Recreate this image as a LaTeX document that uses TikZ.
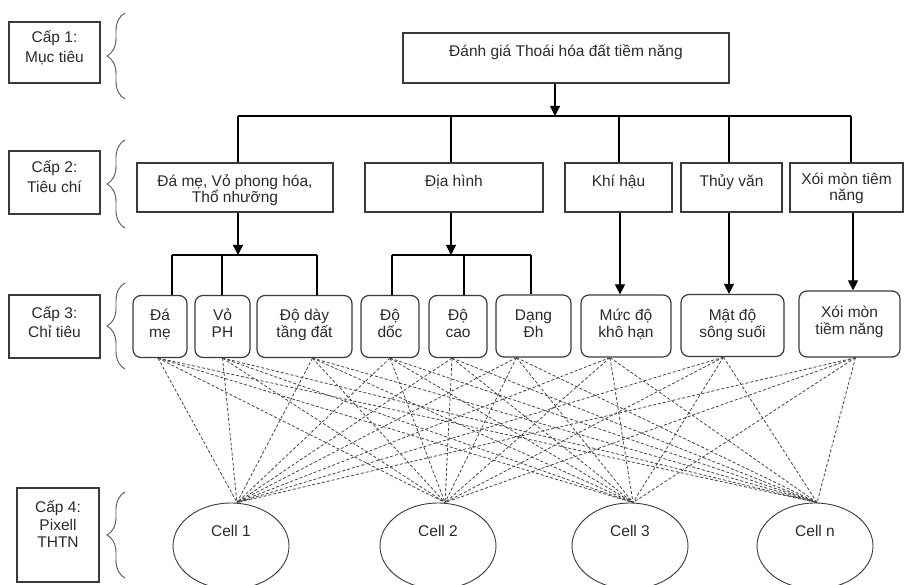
\documentclass[tikz,border=0pt]{standalone}
\usepackage{fontspec}
\setmainfont{Liberation Sans}
\usetikzlibrary{arrows.meta,shapes.geometric,decorations.pathreplacing}
\definecolor{boxgray}{HTML}{3A3A3A}
\definecolor{txtgray}{HTML}{2A2A2A}
\definecolor{dashgray}{HTML}{444444}
\definecolor{bracegray}{HTML}{555555}
\begin{document}
\begin{tikzpicture}[x=1pt,y=-1pt,
  basebox/.style={draw=boxgray, line width=1.2pt, align=center, inner sep=0pt, text=txtgray},
  capbox/.style={basebox, minimum width=91pt, minimum height=63pt, text depth=5pt, font=\fontsize{15.5}{19.5}\selectfont},
  lvtwo/.style={basebox, minimum height=49pt, font=\fontsize{15.5}{16}\selectfont},
  single/.style={text height=12pt, text depth=14pt},
  lvthree/.style={basebox, rounded corners=8pt, minimum height=62pt, text depth=5pt, text height=27pt, font=\fontsize{15.5}{17}\selectfont},
  cellnode/.style={draw=boxgray, line width=0.9pt, ellipse, inner sep=0pt, minimum width=116pt, minimum height=86pt, text=txtgray, text height=12pt, text depth=31pt, font=\fontsize{15.5}{17}\selectfont},
  conn/.style={draw=black, line width=1.1pt},
  arr/.style={conn, -{Triangle[length=10pt,width=10pt]}},
  dline/.style={draw=dashgray, line width=0.8pt, dash pattern=on 3pt off 2pt},
  brc/.style={draw=bracegray, line width=0.9pt, decorate, decoration={brace, amplitude=18pt}}
]
\useasboundingbox (0,0) rectangle (904,585);

% level labels
\node[capbox, minimum height=61pt, text height=25pt] (c1) at (54.5,52.5) {Cấp 1:\\Mục tiêu};
\node[capbox, text height=25pt] (c2) at (54.5,182.5) {Cấp 2:\\Tiêu chí};
\node[capbox, text height=27pt] (c3) at (54.5,326.5) {Cấp 3:\\Chỉ tiêu};
\node[capbox, minimum width=82pt, minimum height=94pt, text height=30pt, font=\fontsize{15.5}{17.5}\selectfont] (c4) at (58,535) {Cấp 4:\\Pixell\\THTN};

% braces
\draw[brc] (125,99) -- (125,13);
\draw[brc] (125,228) -- (125,140);
\draw[brc] (125,369) -- (125,283);
\draw[brc] (125,578) -- (125,492);

% level 1
\node[lvtwo, single, minimum width=326pt, minimum height=50pt] (top) at (566,58) {Đánh giá Thoái hóa đất tiềm năng};

% level 2
\node[lvtwo, minimum width=196pt, text height=35pt, text depth=5pt] (t2a) at (235,187.5) {Đá mẹ, Vỏ phong hóa,\\Thổ nhưỡng};
\node[lvtwo, single, minimum width=178pt] (t2b) at (454,187.5) {Địa hình};
\node[lvtwo, single, minimum width=107pt] (t2c) at (618.5,187.5) {Khí hậu};
\node[lvtwo, single, minimum width=101pt] (t2d) at (731.5,187.5) {Thủy văn};
\node[lvtwo, minimum width=113pt, text height=31pt, text depth=5pt] (t2e) at (846.5,187.5) {Xói mòn tiêm\\năng};

% level 3
\node[lvthree, minimum width=54pt] (t3a) at (160,326.5) {Đá\\mẹ};
\node[lvthree, minimum width=55pt] (t3b) at (222.5,326.5) {Vỏ\\PH};
\node[lvthree, minimum width=95pt] (t3c) at (304.5,326.5) {Độ dày\\tầng đất};
\node[lvthree, minimum width=58pt] (t3d) at (390,326.5) {Độ\\dốc};
\node[lvthree, minimum width=58pt] (t3e) at (458,326.5) {Độ\\cao};
\node[lvthree, minimum width=75pt] (t3f) at (533.5,326) {Dạng\\Đh};
\node[lvthree, minimum width=90pt] (t3g) at (626,326) {Mức độ\\khô hạn};
\node[lvthree, minimum width=103pt, text height=29pt] (t3h) at (732.5,325.5) {Mật độ\\sông suối};
\node[lvthree, minimum width=101pt, minimum height=66pt, text height=26pt] (t3i) at (849.5,324) {Xói mòn\\tiềm năng};

% level 4
\node[cellnode] (cell1) at (231,546) {Cell 1};
\node[cellnode] (cell2) at (438,546) {Cell 2};
\node[cellnode] (cell3) at (630,546) {Cell 3};
\node[cellnode] (cell4) at (815,546) {Cell n};

% level 1 -> level 2
\coordinate (j0) at (555,116);
\coordinate (ja) at (238,116);
\coordinate (jb) at (451,116);
\coordinate (jc) at (619,116);
\coordinate (jd) at (729,116);
\coordinate (je) at (851,116);
\draw[arr] (top.south -| j0) -- (j0);
\draw[conn] (ja) -- (je);
\draw[conn] (ja) -- (ja |- t2a.north);
\draw[conn] (jb) -- (jb |- t2b.north);
\draw[conn] (jc) -- (jc |- t2c.north);
\draw[conn] (jd) -- (jd |- t2d.north);
\draw[conn] (je) -- (je |- t2e.north);

% level 2 -> level 3
\coordinate (ka) at (238,255);
\coordinate (ka1) at (172,255);
\coordinate (ka2) at (222,255);
\coordinate (ka3) at (317,255);
\draw[arr] (t2a.south -| ka) -- (ka);
\draw[conn] (ka1) -- (ka3);
\draw[conn] (ka1) -- (ka1 |- t3a.north);
\draw[conn] (ka2) -- (ka2 |- t3b.north);
\draw[conn] (ka3) -- (ka3 |- t3c.north);

\coordinate (kb) at (451,255);
\coordinate (kb1) at (392,255);
\coordinate (kb2) at (464,255);
\coordinate (kb3) at (531,255);
\draw[arr] (t2b.south -| kb) -- (kb);
\draw[conn] (kb1) -- (kb3);
\draw[conn] (kb1) -- (kb1 |- t3d.north);
\draw[conn] (kb2) -- (kb2 |- t3e.north);
\draw[conn] (kb3) -- (kb3 |- t3f.north);

\draw[arr] ([xshift=1.5pt]t2c.south) -- ([xshift=1.5pt]t2c.south |- t3g.north);
\draw[arr] ([xshift=-2.5pt]t2d.south) -- ([xshift=-2.5pt]t2d.south |- t3h.north);
\draw[arr] ([xshift=6.5pt]t2e.south) -- ([xshift=6.5pt]t2e.south |- t3i.north);

% level 3 -> level 4 (dashed)
\foreach \s/\sx in {t3a/-2,t3b/0,t3c/8,t3d/0,t3e/-6,t3f/-17,t3g/-16,t3h/-9,t3i/6}{
  \foreach \t/\tx in {cell1/6,cell2/7,cell3/3,cell4/2}{
    \draw[dline] ([xshift=\sx pt]\s.south) -- ([xshift=\tx pt]\t.north);
  }
}
\end{tikzpicture}
\end{document}
